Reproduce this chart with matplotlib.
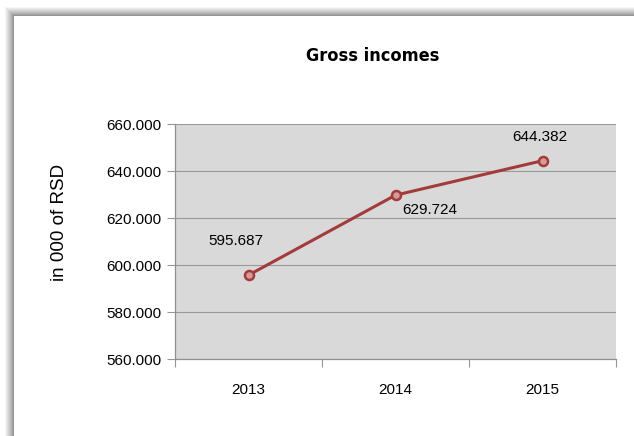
import matplotlib
matplotlib.use("Agg")
import matplotlib.pyplot as plt
from matplotlib.patches import Rectangle
from matplotlib import font_manager
import numpy as np

years = ["2013", "2014", "2015"]
incomes = [595687, 629724, 644382]  # in 000 of RSD
y_ticks = [560000, 580000, 600000, 620000, 640000, 660000]

W, H = 634, 436
fig = plt.figure(figsize=(W / 100, H / 100), dpi=100)
fig.patch.set_facecolor("white")

names = {f.name for f in font_manager.fontManager.ttflist}
base_font = "Liberation Sans" if "Liberation Sans" in names else "DejaVu Sans"
plt.rcParams["font.family"] = [base_font, "DejaVu Sans"]


def px(x, y):
    """Pixel position (from top-left) to figure fraction."""
    return x / W, 1 - y / H


# outer chart frame with a soft shadow on its top and left edges
x0, y0 = 14, 16
for d in range(10, -1, -1):
    g = 0.5 + 0.5 * (d / 10) ** 0.8
    fx, fy = px(x0 - d, y0 - d)
    fig.patches.append(Rectangle((fx, 0), 1.2, fy, transform=fig.transFigure,
                                 facecolor=(g, g, g), edgecolor="none", zorder=0))
fx, fy = px(x0, y0)
fig.patches.append(Rectangle((fx, 0), 1.2, fy, transform=fig.transFigure,
                             facecolor="white", edgecolor="none", zorder=0))

# plot area
l, t = px(175, 124)
r, b = px(616, 359)
ax = fig.add_axes([l, b, r - l, t - b])
ax.set_zorder(2)
ax.set_facecolor("#D9D9D9")

x = np.arange(len(years))
ax.plot(x, incomes, color="#A33B3A", lw=2.2, marker="o", ms=6.5,
        mfc="#D69A98", mec="#A33B3A", mew=1.8, zorder=3)

ax.set_xlim(-0.5, len(years) - 0.5)
ax.set_ylim(y_ticks[0], y_ticks[-1])
ax.set_yticks(y_ticks)
ax.set_yticklabels([f"{v // 1000}.{v % 1000:03d}" for v in y_ticks], fontsize=11)
ax.set_xticks(x)
ax.set_xticklabels(years, fontsize=11)
ax.set_xticks(np.arange(-0.5, len(years)), minor=True)
ax.tick_params(axis="x", which="major", length=0, pad=17)
ax.tick_params(axis="x", which="minor", length=6, color="#969696", width=0.8)
ax.tick_params(axis="y", length=6, color="#969696", width=0.8, pad=4)

ax.grid(axis="y", color="#989898", lw=0.8)
ax.set_axisbelow(True)
for s in ("top", "right"):
    ax.spines[s].set_visible(False)
for s in ("left", "bottom"):
    ax.spines[s].set_color("#909090")
    ax.spines[s].set_linewidth(0.9)

# value labels
offsets = [(-13, 34), (34, -15), (-3, 24)]
for xi, v, (dx, dy) in zip(x, incomes, offsets):
    ax.annotate(f"{v // 1000}.{v % 1000:03d}", (xi, v), xytext=(dx, dy),
                textcoords="offset pixels", ha="center", va="center", fontsize=11)

tx, ty = px(373, 56)
fig.text(tx, ty, "Gross incomes", family=["Liberation Sans Narrow", "DejaVu Sans"],
         fontstretch="condensed", fontweight="bold", fontsize=13,
         ha="center", va="center", zorder=3)
lx, ly = px(59, 222)
fig.text(lx, ly, "in 000 of RSD", fontsize=13.5, rotation=90,
         ha="center", va="center", zorder=3)

fig.savefig("out.png", dpi=100, facecolor="white")
